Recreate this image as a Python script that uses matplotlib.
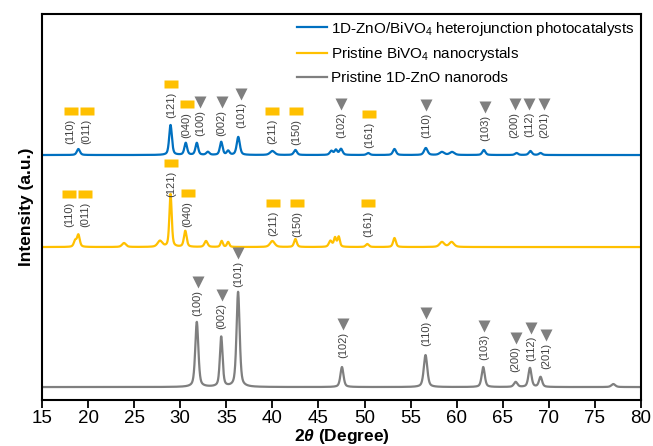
import numpy as np
import matplotlib.pyplot as plt

plt.rcParams['font.family'] = ['Liberation Sans', 'DejaVu Sans']
plt.rcParams['mathtext.fontset'] = 'custom'
plt.rcParams['mathtext.rm'] = 'Liberation Sans'
plt.rcParams['mathtext.it'] = 'Liberation Sans:italic'
plt.rcParams['mathtext.bf'] = 'Liberation Sans:bold'
plt.rcParams['mathtext.bfit'] = 'Liberation Sans:bold:italic'

# peak tables: 2theta position, height (a.u.), FWHM
zno_pos = [31.8, 34.45, 36.28, 47.55, 56.62, 62.88, 66.4, 67.95, 69.1, 77.0]
zno_h = [65, 50, 95, 20, 32, 20, 5, 19, 10, 3]
zno_w = [0.4, 0.35, 0.4, 0.4, 0.45, 0.4, 0.45, 0.4, 0.4, 0.5]

bvo_pos = [18.6, 18.95, 23.9, 27.8, 28.95, 30.55, 32.8, 34.5, 35.2, 40.0, 42.5,
           46.3, 46.8, 47.2, 50.3, 53.25, 58.4, 59.45]
bvo_h = [6, 12, 4, 6, 53, 16, 6, 6, 5, 6, 8, 6, 9, 10, 3, 9, 5, 5]
bvo_w = [0.35, 0.35, 0.5, 0.6, 0.3, 0.35, 0.4, 0.3, 0.3, 0.6, 0.35, 0.4, 0.3, 0.3,
         0.4, 0.35, 0.6, 0.6]

het_pos = [18.95, 28.95, 30.6, 31.8, 33.0, 34.45, 35.2, 36.3, 40.0, 42.5, 46.4,
           46.9, 47.45, 50.4, 53.25, 56.65, 58.4, 59.5, 62.95, 66.5, 68.0, 69.1]
het_h = [6, 30, 12, 12, 3, 13, 4, 18, 4, 5, 4, 5, 6, 2, 6, 7, 3, 3, 5, 2, 4, 2]
het_w = [0.4, 0.35, 0.35, 0.35, 0.4, 0.35, 0.35, 0.4, 0.6, 0.4, 0.4, 0.35, 0.4,
         0.4, 0.4, 0.45, 0.6, 0.6, 0.4, 0.4, 0.4, 0.4]

offsets = {'zno': 13, 'bvo': 153, 'het': 245}

# reflection markers: (label, 2theta, y)
het_bvo_marks = [('(110)', 18.1, 289), ('(011)', 19.85, 289), ('(121)', 29.0, 316),
                 ('(040)', 30.7, 296), ('(211)', 40.0, 289), ('(150)', 42.6, 289),
                 ('(161)', 50.5, 286)]
het_zno_marks = [('(100)', 32.2, 298), ('(002)', 34.5, 298), ('(101)', 36.6, 306),
                 ('(102)', 47.5, 296), ('(110)', 56.65, 295), ('(103)', 63.05, 293),
                 ('(200)', 66.3, 296), ('(112)', 67.85, 296), ('(201)', 69.5, 296)]
bvo_marks = [('(110)', 17.95, 206), ('(011)', 19.7, 206), ('(121)', 29.0, 237),
             ('(040)', 30.8, 207), ('(211)', 40.1, 197), ('(150)', 42.7, 197),
             ('(161)', 50.4, 197)]
zno_marks = [('(100)', 31.9, 118), ('(002)', 34.5, 105), ('(101)', 36.3, 147),
             ('(102)', 47.7, 76), ('(110)', 56.7, 87), ('(103)', 63.0, 74),
             ('(200)', 66.4, 62), ('(112)', 68.1, 72), ('(201)', 69.7, 65)]

blue = '#0070C0'
gold = '#FFC000'
grey = '#7F7F7F'

x = np.arange(15, 80.001, 0.02)


def pattern(pos, h, w, base):
    y = np.full_like(x, float(base))
    for p, a, fw in zip(pos, h, w):
        g = np.exp(-4 * np.log(2) * ((x - p) / fw) ** 2)
        l = 1 / (1 + 4 * ((x - p) / fw) ** 2)
        y += a * (0.5 * g + 0.5 * l)
    return y


fig = plt.figure(figsize=(6.53, 4.46), dpi=100)
ax = fig.add_axes([0.0643, 0.103, 0.9173, 0.8656])

ax.plot(x, pattern(het_pos, het_h, het_w, offsets['het']), color=blue, lw=1.6,
        label='1D-ZnO/BiVO$_4$ heterojunction photocatalysts')
ax.plot(x, pattern(bvo_pos, bvo_h, bvo_w, offsets['bvo']), color=gold, lw=1.6,
        label='Pristine BiVO$_4$ nanocrystals')
ax.plot(x, pattern(zno_pos, zno_h, zno_w, offsets['zno']), color=grey, lw=1.6,
        label='Pristine 1D-ZnO nanorods')

rect = [(-1, -0.68), (1, -0.68), (1, 0.68), (-1, 0.68)]


def mark(items, marker, color, ms):
    for lab, px, py in items:
        ax.plot(px, py, marker=marker, color=color, ms=ms, mec='none', ls='none')
        ax.annotate(lab, (px, py), xytext=(0, -5.5), textcoords='offset points',
                    rotation=90, ha='center', va='top', fontsize=8, color='#404040')


mark(het_bvo_marks, rect, gold, 9.5)
mark(het_zno_marks, 'v', grey, 9)
mark(bvo_marks, rect, gold, 9.5)
mark(zno_marks, 'v', grey, 9)

ax.set_xlim(15, 80)
ax.set_ylim(0, 386)
ax.set_xticks(range(15, 81, 5))
ax.set_yticks([])
ax.tick_params(axis='x', direction='out', length=6, width=1.3, labelsize=13.5, pad=1)
for s in ax.spines.values():
    s.set_linewidth(1.5)

ax.set_xlabel(r'2$\mathbfit{\theta}$ (Degree)', fontsize=12.5, fontweight='bold', labelpad=0)
ax.set_ylabel('Intensity (a.u.)', fontsize=12.5, fontweight='bold', labelpad=6)

ax.legend(loc='upper right', bbox_to_anchor=(1.01, 1.017), frameon=False,
          fontsize=11, handlelength=2.0, handletextpad=0.25, labelspacing=0.5,
          borderpad=0.3)

fig.savefig('out.png', dpi=100)
